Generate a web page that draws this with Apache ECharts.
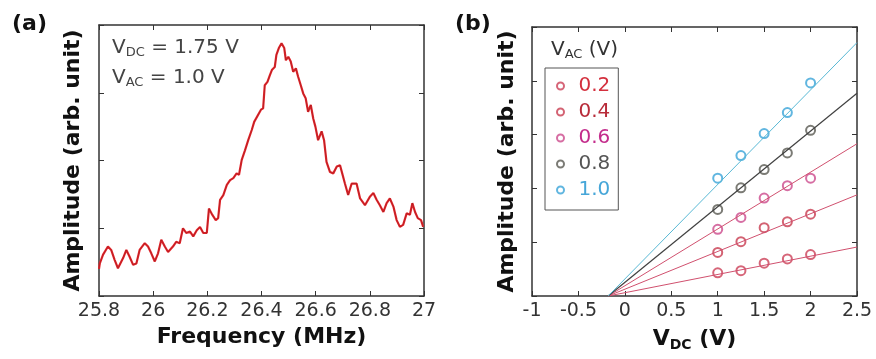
<!DOCTYPE html>
<html>
<head>
<meta charset="utf-8">
<script src="https://cdn.jsdelivr.net/npm/echarts@6/dist/echarts.min.js"></script>
<style>
  html, body { margin: 0; padding: 0; background: #fff; }
  #chart { width: 876px; height: 359px; }
</style>
</head>
<body>
<div id="chart"></div>
<script>
// panel (a): resonance spectrum
const freq = [25.800, 25.803, 25.815, 25.833, 25.845, 25.858, 25.870, 25.889, 25.901, 25.913,
  25.926, 25.938, 25.950, 25.969, 25.981, 25.993, 26.006, 26.018, 26.030, 26.043,
  26.055, 26.073, 26.085, 26.098, 26.110, 26.122, 26.136, 26.148, 26.161, 26.173,
  26.185, 26.198, 26.206, 26.218, 26.231, 26.240, 26.247, 26.259, 26.272, 26.284,
  26.296, 26.308, 26.317, 26.327, 26.339, 26.351, 26.364, 26.373, 26.398, 26.406,
  26.412, 26.422, 26.431, 26.439, 26.449, 26.455, 26.464, 26.474, 26.484, 26.490,
  26.499, 26.508, 26.517, 26.527, 26.535, 26.545, 26.554, 26.563, 26.572, 26.582,
  26.591, 26.599, 26.609, 26.622, 26.631, 26.640, 26.653, 26.665, 26.678, 26.690,
  26.698, 26.708, 26.720, 26.733, 26.751, 26.764, 26.782, 26.801, 26.813, 26.825,
  26.837, 26.850, 26.862, 26.874, 26.887, 26.899, 26.911, 26.923, 26.936, 26.948,
  26.957, 26.967, 26.977, 26.989, 26.997];
const amp = [0.40, 0.48, 0.61, 0.73, 0.68, 0.53, 0.41, 0.56, 0.68, 0.58,
  0.46, 0.48, 0.68, 0.78, 0.73, 0.63, 0.51, 0.63, 0.83, 0.73,
  0.65, 0.73, 0.80, 0.78, 1.00, 0.93, 0.95, 0.88, 0.97, 1.02,
  0.93, 0.93, 1.29, 1.20, 1.12, 1.15, 1.42, 1.49, 1.64, 1.71,
  1.74, 1.81, 1.79, 2.01, 2.15, 2.30, 2.45, 2.57, 2.75, 2.77,
  3.11, 3.16, 3.26, 3.34, 3.38, 3.56, 3.66, 3.73, 3.66, 3.48,
  3.53, 3.46, 3.31, 3.36, 3.24, 3.11, 2.99, 2.92, 2.72, 2.82,
  2.62, 2.50, 2.30, 2.43, 2.30, 1.98, 1.83, 1.81, 1.91, 1.93,
  1.81, 1.66, 1.49, 1.66, 1.66, 1.44, 1.34, 1.47, 1.52, 1.42,
  1.34, 1.24, 1.37, 1.44, 1.32, 1.12, 1.02, 1.05, 1.22, 1.20,
  1.37, 1.24, 1.15, 1.12, 1.02];

// panel (b): amplitude vs V_DC for each V_AC
const vdc = [1, 1.25, 1.5, 1.75, 2];
const vacNames = ['0.2', '0.4', '0.6', '0.8', '1.0'];
const ampVac02 = [0.43, 0.47, 0.61, 0.69, 0.77];
const ampVac04 = [0.81, 1.01, 1.27, 1.38, 1.52];
const ampVac06 = [1.24, 1.46, 1.82, 2.05, 2.19];
const ampVac08 = [1.61, 2.01, 2.35, 2.66, 3.08];
const ampVac10 = [2.19, 2.61, 3.02, 3.41, 3.96];
const fitStartX = -0.18;
const fitEndX = 2.5;
const fitEndAmp = [0.91, 1.88, 2.83, 3.77, 4.71];

const pointColors = ['#cc4058', '#c83c50', '#cc4a8c', '#5a5a52', '#3aa4d8'];
const lineColors = ['#d0506e', '#d0506e', '#d0506e', '#404040', '#58b8d4'];
const textColors = ['#d4303e', '#b82c3a', '#c42c8c', '#555555', '#46a6d8'];

const FONT = 'DejaVu Sans';
const axisCol = '#333';

function baseX(grid, min, max, interval, top) {
  return {
    type: 'value', gridIndex: grid, min: min, max: max, interval: interval,
    position: top ? 'top' : 'bottom',
    axisLine: { show: true, onZero: false, lineStyle: { color: axisCol, width: 1.5 } },
    axisTick: { show: true, inside: true, length: 5, lineStyle: { color: axisCol } },
    axisLabel: {
      show: !top, color: '#333', fontFamily: FONT, fontSize: 19, margin: 6,
      formatter: v => String(+v.toFixed(1))
    },
    splitLine: { show: false }
  };
}
function baseY(grid, min, max, interval, right) {
  return {
    type: 'value', gridIndex: grid, min: min, max: max, interval: interval,
    position: right ? 'right' : 'left',
    axisLine: { show: true, onZero: false, lineStyle: { color: axisCol, width: 1.5 } },
    axisTick: { show: true, inside: true, length: 5, lineStyle: { color: axisCol } },
    axisLabel: { show: false },
    splitLine: { show: false }
  };
}

const titleStyle = { color: '#111', fontFamily: FONT, fontWeight: 'bold', fontSize: 22 };

const xA = baseX(0, 25.8, 27, 0.2, false);
xA.name = 'Frequency (MHz)';
xA.nameLocation = 'middle';
xA.nameGap = 30;
xA.nameTextStyle = titleStyle;

const xB = baseX(2, -1, 2.5, 0.5, false);
xB.name = '{b|V}{s|DC}{b| (V)}';
xB.nameLocation = 'middle';
xB.nameGap = 30;
xB.nameTextStyle = {
  rich: {
    b: titleStyle,
    s: { color: '#111', fontFamily: FONT, fontWeight: 'bold', fontSize: 14, padding: [12, 0, 0, 0] }
  }
};

const yA = baseY(0, 0, 4, 1, false);
yA.name = 'Amplitude (arb. unit)';
yA.nameLocation = 'middle';
yA.nameGap = 15;
yA.nameTextStyle = titleStyle;

const yB = baseY(2, 0, 5, 1, false);
yB.name = 'Amplitude (arb. unit)';
yB.nameLocation = 'middle';
yB.nameGap = 14;
yB.nameTextStyle = titleStyle;

const pointSets = [ampVac02, ampVac04, ampVac06, ampVac08, ampVac10];

const series = [
  {
    type: 'line', xAxisIndex: 0, yAxisIndex: 0, showSymbol: false, silent: true,
    data: freq.map((f, i) => [f, amp[i]]),
    lineStyle: { color: '#e8262c', width: 2.2 }
  },
  {
    type: 'line', xAxisIndex: 0, yAxisIndex: 0, showSymbol: false, silent: true,
    data: freq.map((f, i) => [f, amp[i]]),
    lineStyle: { color: '#5a1414', width: 0.6, opacity: 0.55 }
  }
];
vacNames.forEach((name, k) => {
  series.push({
    name: 'fit ' + name, type: 'line', xAxisIndex: 2, yAxisIndex: 2,
    showSymbol: false, silent: true,
    data: [[fitStartX, 0], [fitEndX, fitEndAmp[k]]],
    lineStyle: { color: lineColors[k], width: k === 3 ? 1.2 : 1 }
  });
});
vacNames.forEach((name, k) => {
  series.push({
    name: name, type: 'scatter', xAxisIndex: 2, yAxisIndex: 2,
    symbol: 'emptyCircle', symbolSize: 9,
    data: vdc.map((v, i) => [v, pointSets[k][i]]),
    itemStyle: { color: pointColors[k], borderColor: pointColors[k], borderWidth: 1.3 }
  });
});

const chart = echarts.init(document.getElementById('chart'), null, { renderer: 'canvas' });
chart.setOption({
  animation: false,
  backgroundColor: '#fff',
  grid: [
    { left: 99, top: 25, width: 325, height: 271 },
    { left: 532, top: 27, width: 325, height: 269 }
  ],
  xAxis: [
    xA,
    baseX(0, 25.8, 27, 0.2, true),
    xB,
    baseX(1, -1, 2.5, 0.5, true)
  ].map((a, i) => Object.assign(a, { gridIndex: i < 2 ? 0 : 1 })),
  yAxis: [
    yA,
    baseY(0, 0, 4, 1, true),
    yB,
    baseY(1, 0, 5, 1, true)
  ].map((a, i) => Object.assign(a, { gridIndex: i < 2 ? 0 : 1 })),
  legend: {
    left: 545, top: 68, orient: 'vertical',
    data: vacNames.map((n, k) => ({ name: n, textStyle: { color: textColors[k] } })),
    itemWidth: 26, itemHeight: 7, itemGap: 6,
    padding: [8, 8, 10, 11],
    borderColor: '#555', borderWidth: 1, backgroundColor: '#fff',
    textStyle: { fontFamily: FONT, fontSize: 20 },
    selectedMode: false
  },
  graphic: [
    { type: 'text', left: 12, top: 13, style: { text: '(a)', font: 'bold 22px "DejaVu Sans"', fill: '#111' } },
    { type: 'text', left: 455, top: 13, style: { text: '(b)', font: 'bold 22px "DejaVu Sans"', fill: '#111' } },
    {
      type: 'text', left: 112, top: 38,
      style: {
        text: '{n|V}{s|DC}{n| = 1.75 V}',
        rich: {
          n: { fontFamily: FONT, fontSize: 20, fill: '#444' },
          s: { fontFamily: FONT, fontSize: 13, fill: '#444', padding: [10, 0, 0, 0] }
        }
      }
    },
    {
      type: 'text', left: 112, top: 68,
      style: {
        text: '{n|V}{s|AC}{n| = 1.0 V}',
        rich: {
          n: { fontFamily: FONT, fontSize: 20, fill: '#444' },
          s: { fontFamily: FONT, fontSize: 13, fill: '#444', padding: [10, 0, 0, 0] }
        }
      }
    },
    {
      type: 'text', left: 551, top: 40,
      style: {
        text: '{n|V}{s|AC}{n| (V)}',
        rich: {
          n: { fontFamily: FONT, fontSize: 20, fill: '#333' },
          s: { fontFamily: FONT, fontSize: 13, fill: '#333', padding: [10, 0, 0, 0] }
        }
      }
    }
  ],
  series: series
});
</script>
</body>
</html>
